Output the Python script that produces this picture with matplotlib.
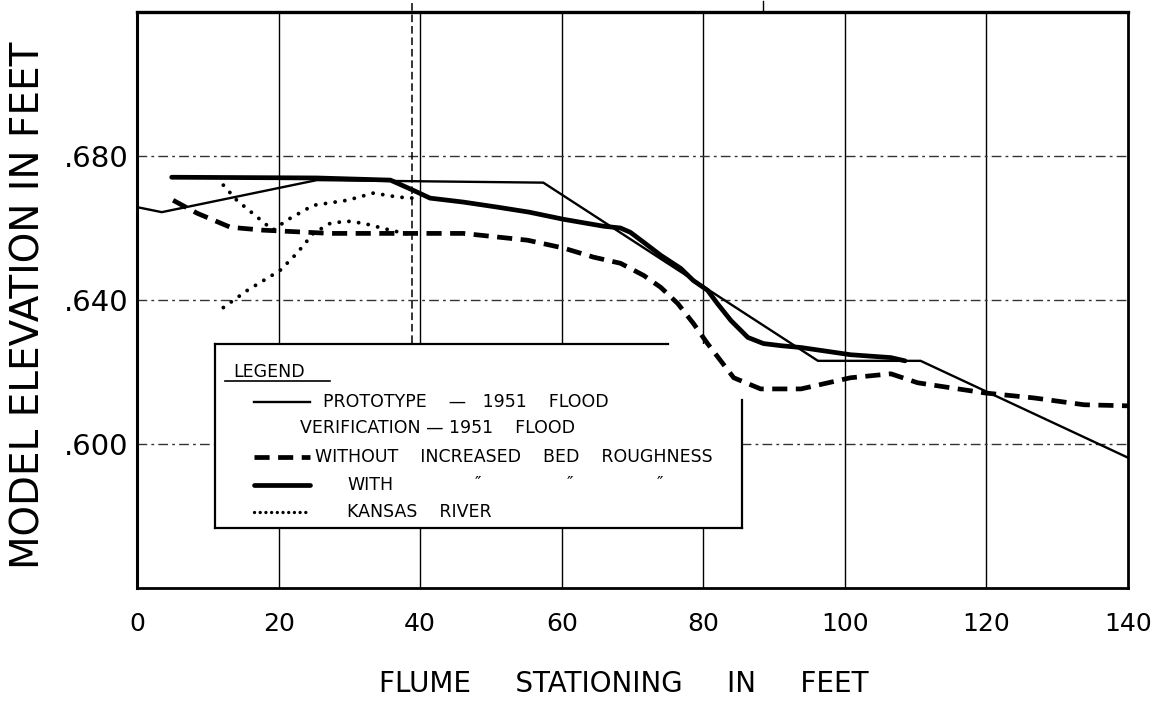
import matplotlib
matplotlib.use("Agg")
import matplotlib.pyplot as plt
from matplotlib.lines import Line2D
from matplotlib.patches import Rectangle

# ---------------- data ----------------
proto_x = [0.0, 3.5, 25.4, 57.4, 96.2, 110.7, 140.0]
proto_y = [0.6658, 0.6644, 0.6733, 0.6726, 0.6231, 0.6231, 0.5962]

with_x = [4.9, 25.4, 35.8, 39.0, 41.4, 46.1, 50.9, 55.4, 60.3, 65.9, 68.3, 69.7,
          71.6, 74.0, 76.8, 78.6, 80.6, 82.0, 83.9, 86.3, 88.5, 91.0, 93.8,
          100.8, 106.5, 108.5]
with_y = [0.6741, 0.6739, 0.6733, 0.6705, 0.6683, 0.6672, 0.6658, 0.6644, 0.6624,
          0.6605, 0.6600, 0.6588, 0.6560, 0.6524, 0.6488, 0.6454, 0.6427, 0.6390,
          0.6343, 0.6296, 0.6279, 0.6273, 0.6268, 0.6248, 0.6240, 0.6231]

without_x = [5.1, 8.5, 13.2, 17.8, 27.3, 36.8, 46.1, 55.2, 60.3, 64.5, 68.3, 71.6,
             74.0, 76.4, 78.6, 80.6, 84.3, 88.1, 93.8, 100.8, 106.5, 110.3, 119.7,
             126.7, 133.8, 140.0]
without_y = [0.6677, 0.6641, 0.6602, 0.6594, 0.6585, 0.6585, 0.6585, 0.6566, 0.6544,
             0.6519, 0.6502, 0.6468, 0.6435, 0.6390, 0.6335, 0.6279, 0.6184, 0.6153,
             0.6153, 0.6184, 0.6195, 0.6170, 0.6142, 0.6128, 0.6109, 0.6106]

kansas_a_x = [12.2, 14.1, 17.0, 19.2, 21.2, 24.9, 29.7, 33.4, 36.8, 39.0]
kansas_a_y = [0.6719, 0.6677, 0.6630, 0.6594, 0.6622, 0.6663, 0.6677, 0.6697, 0.6686, 0.6683]
kansas_b_x = [12.2, 15.6, 20.2, 22.6, 24.9, 27.3, 29.7, 32.0, 35.8, 39.0]
kansas_b_y = [0.6379, 0.6427, 0.6482, 0.6530, 0.6585, 0.6613, 0.6619, 0.6613, 0.6594, 0.6580]

marker_station = 38.9          # dashed vertical reference line
marker_bottom = 0.628
top_tick_station = 88.5

x_ticks = [0, 20, 40, 60, 80, 100, 120, 140]
x_tick_labels = ["0", "20", "40", "60", "80", "100", "120", "140"]
y_ticks = [0.600, 0.640, 0.680]
y_tick_labels = [".600", ".640", ".680"]
x_limits = (0, 140)
y_limits = (0.560, 0.720)

legend_title = "LEGEND"
legend_labels = ["PROTOTYPE    \u2014   1951    FLOOD",
                 "VERIFICATION \u2014 1951    FLOOD",
                 "WITHOUT    INCREASED    BED    ROUGHNESS",
                 "WITH",
                 "KANSAS    RIVER"]
ditto = "\u2033"

x_label = "FLUME     STATIONING     IN     FEET"
y_label = "MODEL ELEVATION IN FEET"

# ---------------- figure ----------------
W, H = 1161, 706
fig = plt.figure(figsize=(W / 100, H / 100), dpi=100)
FONT = ["DejaVu Sans"]
plt.rcParams["font.family"] = FONT


def fx(px):
    return px / W


def fy(py):
    return 1 - py / H


ax_l, ax_r, ax_t, ax_b = 137, 1128, 12, 588
ax = fig.add_axes([fx(ax_l), fy(ax_b), (ax_r - ax_l) / W, (ax_b - ax_t) / H])
ax.set_xlim(*x_limits)
ax.set_ylim(*y_limits)

for s in ax.spines.values():
    s.set_linewidth(2.0)
    s.set_color("black")
ax.spines["top"].set_linewidth(2.4)
ax.spines["left"].set_linewidth(2.2)

ax.set_xticks(x_ticks)
ax.set_xticklabels(x_tick_labels, fontsize=18)
ax.set_yticks(y_ticks)
ax.set_yticklabels(y_tick_labels, fontsize=21)
ax.tick_params(axis="x", length=0, pad=17)
ax.tick_params(axis="y", length=0, pad=6)

# grid
for xv in x_ticks[1:-1]:
    ax.axvline(xv, color="black", lw=1.0, zorder=1)
for yv in y_ticks:
    ax.axhline(yv, color="0.2", lw=1.0, ls=(0, (7, 3, 2, 3)), zorder=1)

# vertical dashed marker and top tick
ax.plot([marker_station, marker_station], [marker_bottom, y_limits[1] + 0.0035],
        color="black", lw=1.1, ls=(0, (5, 2.5)), clip_on=False, zorder=2)
ax.plot([top_tick_station, top_tick_station], [y_limits[1], y_limits[1] + 0.003],
        color="black", lw=1.0, clip_on=False, zorder=2)

# legend box (white, hides grid; drawn inside the axes below the data lines)
lx0, lx1, ly0, ly1 = 215, 742, 344, 528
ax.add_patch(Rectangle((fx(lx0), fy(ly1)), fx(lx1) - fx(lx0), fy(ly0) - fy(ly1),
                       transform=fig.transFigure, facecolor="white",
                       edgecolor="none", zorder=3))
edge_kw = dict(color="black", lw=1.6, transform=fig.transFigure, zorder=4)
ax.add_line(Line2D([fx(lx0), fx(668)], [fy(ly0), fy(ly0)], **edge_kw))
ax.add_line(Line2D([fx(lx0), fx(lx0)], [fy(ly0), fy(ly1)], **edge_kw))
ax.add_line(Line2D([fx(lx0), fx(lx1)], [fy(ly1), fy(ly1)], **edge_kw))
ax.add_line(Line2D([fx(lx1), fx(lx1)], [fy(400), fy(ly1)], **edge_kw))

# data lines
thin = dict(color="black", lw=1.7, solid_joinstyle="round", zorder=5)
thick = dict(color="black", lw=3.4, solid_joinstyle="round", solid_capstyle="round", zorder=5)
dashed = dict(color="black", lw=3.4, ls=(0, (3.2, 1.8)), zorder=5)
dotted = dict(color="black", lw=2.8, ls=(0, (0.01, 2.5)), dash_capstyle="round", zorder=5)

ax.plot(proto_x, proto_y, **thin)
ax.plot(with_x, with_y, **thick)
ax.plot(without_x, without_y, **dashed)
ax.plot(kansas_a_x, kansas_a_y, **dotted)
ax.plot(kansas_b_x, kansas_b_y, **dotted)

# legend content
tkw = dict(fontsize=12.5, va="center", ha="left", zorder=6,
           transform=fig.transFigure)
ax.text(fx(233), fy(372), legend_title, **tkw)
ax.add_line(Line2D([fx(225), fx(330)], [fy(381), fy(381)], color="black", lw=1.2,
                   transform=fig.transFigure, zorder=6))

legend_dotted = dict(dotted, lw=2.4, ls=(0, (0.01, 1.7)))
samples = [(402, thin), (None, None), (457, dashed), (485, thick), (512, legend_dotted)]
text_rows = [402, 428, 457, 485, 512]
text_x = [323, 300, 315, 347, 347]
for (sy, style), ty, tx, lab in zip(samples, text_rows, text_x, legend_labels):
    if style is not None:
        kw = dict(style)
        kw.pop("zorder", None)
        ax.add_line(Line2D([fx(254), fx(310)], [fy(sy), fy(sy)],
                           transform=fig.transFigure, zorder=6, **kw))
    ax.text(fx(tx), fy(ty), lab, **tkw)
for dx in [475, 567, 657]:
    ax.text(fx(dx), fy(484), ditto, **tkw)

# axis labels
fig.text(fx(624), fy(684), x_label, fontsize=20, ha="center", va="center")
fig.text(fx(29), fy(305), y_label, fontsize=28, ha="center", va="center",
         rotation=90)

fig.savefig("out.png", dpi=100, facecolor="white")
